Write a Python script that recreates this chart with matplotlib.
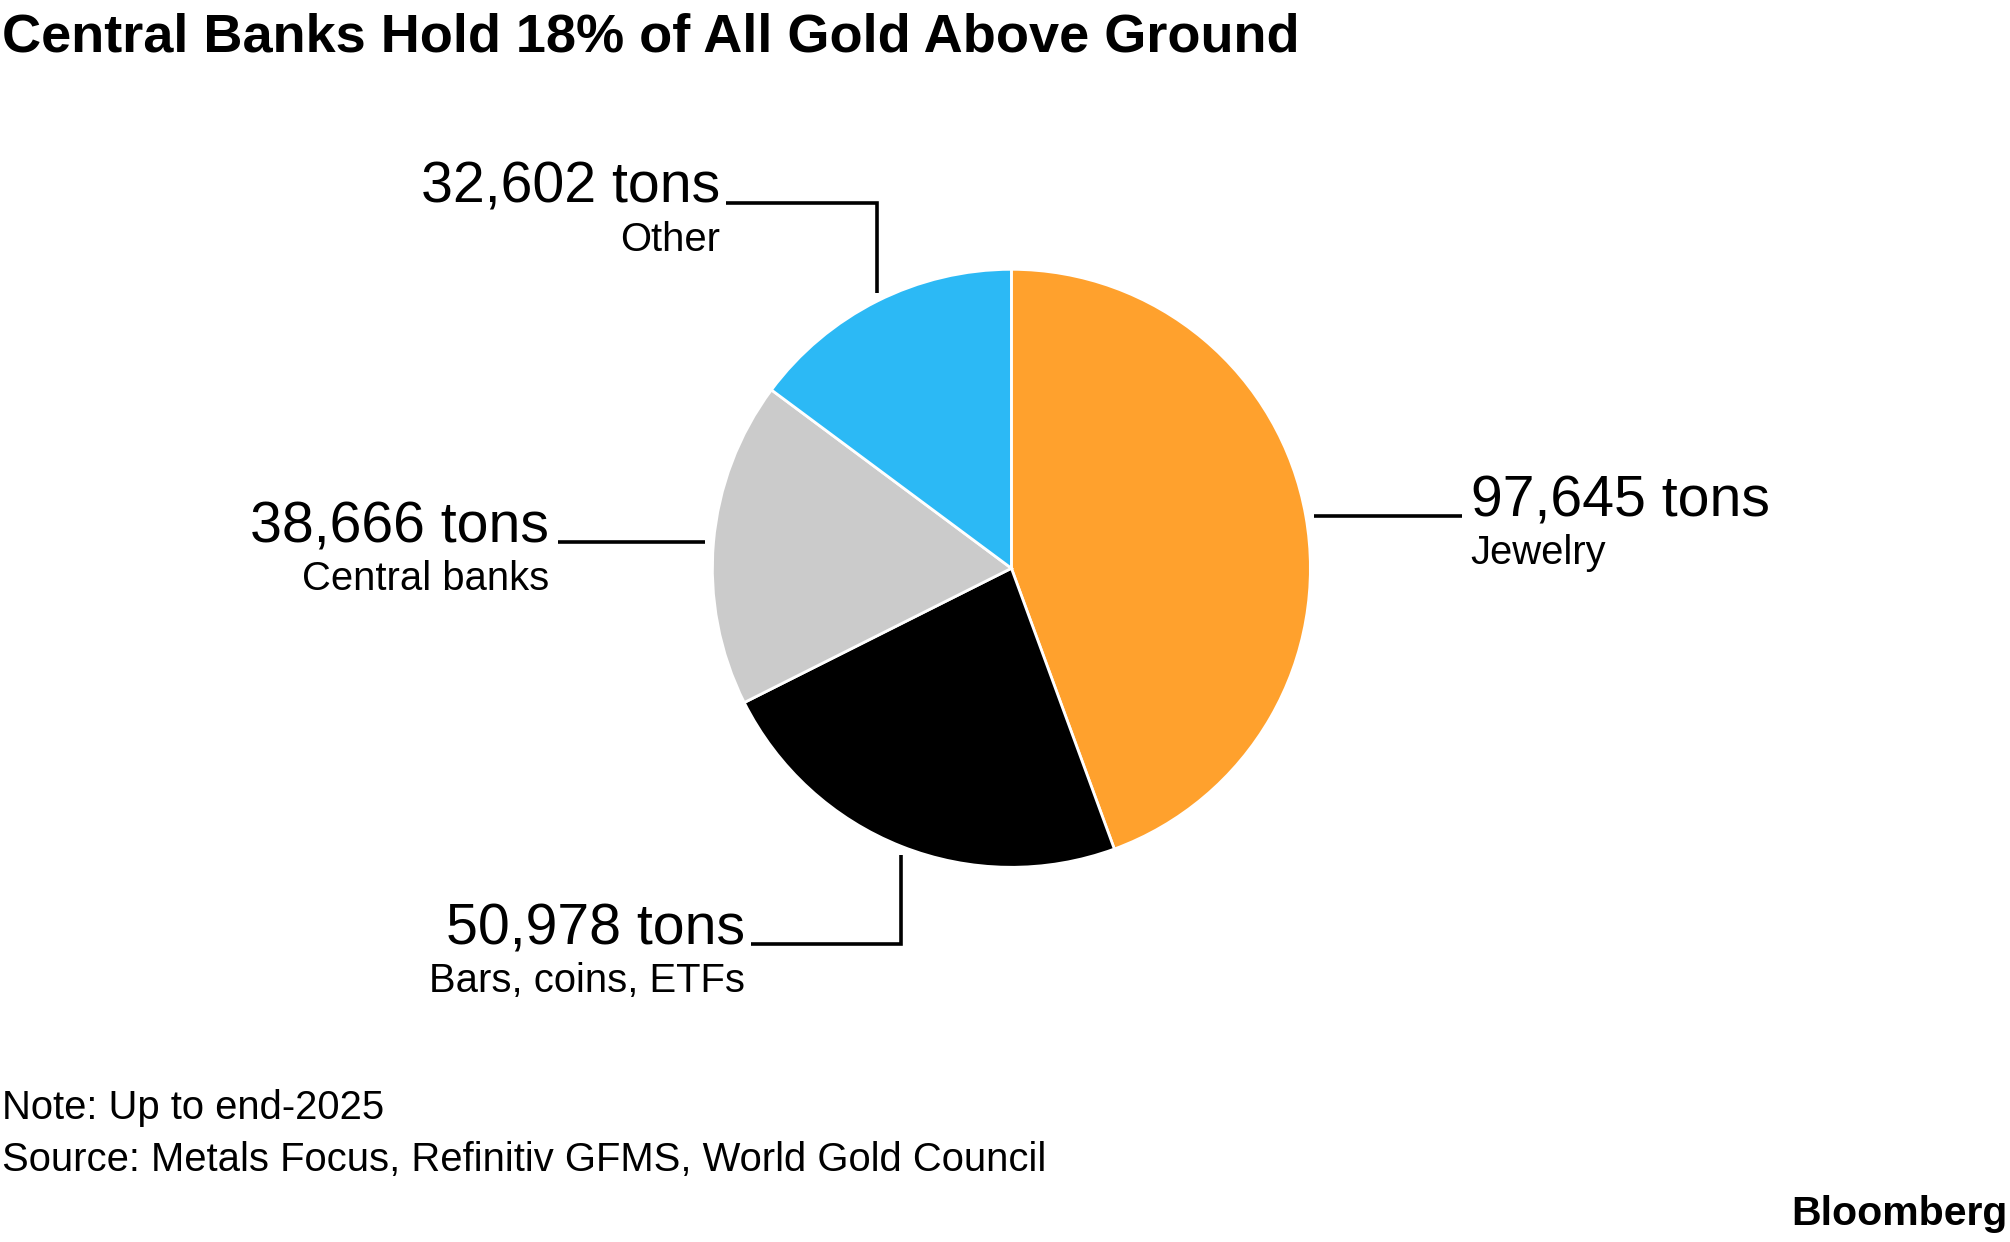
import matplotlib
matplotlib.use('Agg')
import matplotlib.pyplot as plt
import numpy as np

# ---- data ----
categories = ["Jewelry", "Bars, coins, ETFs", "Central banks", "Other"]
tons = [97645, 50978, 38666, 32602]
colors = ["#FFA12D", "#000000", "#CBCBCB", "#2CB9F5"]
title = "Central Banks Hold 18% of All Gold Above Ground"
note = "Note: Up to end-2025"
source = "Source: Metals Focus, Refinitiv GFMS, World Gold Council"
brand = "Bloomberg"

plt.rcParams['font.family'] = ['Liberation Sans', 'DejaVu Sans']

W, H = 2010, 1242
fig = plt.figure(figsize=(W / 100, H / 100), dpi=100)
fig.patch.set_facecolor('white')

# pie axes placed in pixel layout
cx, cy, r = 1011.4, 568.3, 299.0
ax = fig.add_axes([(cx - r) / W, 1 - (cy + r) / H, 2 * r / W, 2 * r / H])
wedges, _ = ax.pie(tons, colors=colors, startangle=90, counterclock=False,
                   radius=1, wedgeprops=dict(edgecolor='white', linewidth=2))
ax.set_xlim(-1, 1)
ax.set_ylim(-1, 1)
ax.set_aspect('equal')
ax.axis('off')

# leader-line routing (layout): mode, outer extent, horizontal end
routes = [
    ("h", 1.506, None),     # Jewelry -> right
    ("v", -1.258, -0.871),  # Bars -> down then left
    ("h", -1.515, None),    # Central banks -> left
    ("v", 1.223, -0.953),   # Other -> up then left
]
gap = 0.028
lw = 2.6
val_fs = 41.2
cat_fs = 28.8
cat_off = -34.5  # points below value baseline

for w, cat, v, (mode, ext, hend) in zip(wedges, categories, tons, routes):
    mid = np.deg2rad((w.theta1 + w.theta2) / 2)
    if mode == "h":
        y = np.sin(mid)
        s = np.sign(ext)
        x0 = s * (np.sqrt(1 - y ** 2) + gap)
        ax.plot([x0, ext], [y, y], color='black', lw=lw, clip_on=False,
                solid_capstyle='butt')
        tx = ext + s * 0.03
        ty = y
        ha = 'left' if s > 0 else 'right'
    else:
        x = np.cos(mid)
        s = np.sign(ext)
        y0 = s * (np.sqrt(1 - x ** 2) + gap)
        ax.plot([x, x, hend], [y0, ext, ext], color='black', lw=lw,
                clip_on=False, solid_capstyle='butt', solid_joinstyle='miter')
        tx = hend - 0.021
        ty = ext
        ha = 'right'
    ax.text(tx, ty, f"{v:,} tons", ha=ha, va='baseline', fontsize=val_fs,
            color='black')
    ax.annotate(cat, xy=(tx, ty), xytext=(0, cat_off),
                textcoords='offset points', ha=ha, va='baseline',
                fontsize=cat_fs, color='black', annotation_clip=False)

# title and footer
fig.text(0.001, 1 - 52 / H, title, ha='left', va='baseline', fontsize=39,
         fontweight='bold', color='black')
fig.text(0.001, 1 - 1119 / H, note, ha='left', va='baseline', fontsize=28.8,
         color='black')
fig.text(0.001, 1 - 1171 / H, source, ha='left', va='baseline', fontsize=28.8,
         color='black')
fig.text(2007 / W, 1 - 1225 / H, brand, ha='right', va='baseline', fontsize=29.5,
         fontweight='bold', color='black')

fig.savefig('out.png', dpi=100, facecolor='white')
